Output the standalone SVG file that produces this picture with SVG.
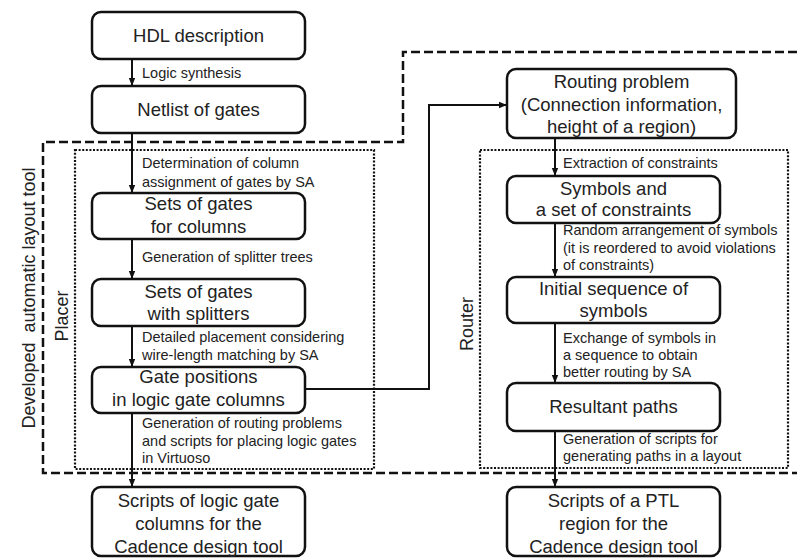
<svg xmlns="http://www.w3.org/2000/svg" width="797" height="558" viewBox="0 0 797 558">
<style>
.box{fill:#fff;stroke:#111;stroke-width:2.5}
.bt{font-family:"Liberation Sans",Arial,sans-serif;font-size:18.5px;fill:#222;text-anchor:middle}
.lb{font-family:"Liberation Sans",Arial,sans-serif;font-size:14.5px;fill:#222}
.side{font-family:"Liberation Sans",Arial,sans-serif;font-size:18px;fill:#222;text-anchor:middle}
.con{fill:none;stroke:#111;stroke-width:2}
.dash{fill:none;stroke:#111;stroke-width:2.5;stroke-dasharray:9 4}
.dot{fill:none;stroke:#111;stroke-width:2.2;stroke-dasharray:2 1.6}
</style>
<defs>
<marker id="ah" markerUnits="userSpaceOnUse" markerWidth="8" markerHeight="8" viewBox="0 0 8 8" refX="8" refY="4" orient="auto">
<path d="M0,0.8 L8,4 L0,7.2 Z" fill="#111"/>
</marker>
</defs>
<rect width="797" height="558" fill="#fff"/>
<g id="regions">
<path class="dash" d="M797,52 H403 V142 H43 V473 H797"/>
<rect class="dot" x="75" y="150" width="299" height="319"/>
<rect class="dot" x="480" y="150" width="308" height="318"/>
<text class="side" transform="translate(35,298) rotate(-90)" xml:space="preserve">Developed  automatic layout tool</text>
<text class="side" transform="translate(68,316) rotate(-90)">Placer</text>
<text class="side" transform="translate(473,324) rotate(-90)">Router</text>
</g>
<g id="connectors">
<path class="con" d="M132,59 V86" marker-end="url(#ah)"/>
<path class="con" d="M132,133 V193" marker-end="url(#ah)"/>
<path class="con" d="M132,239 V279" marker-end="url(#ah)"/>
<path class="con" d="M132,326 V367" marker-end="url(#ah)"/>
<path class="con" d="M132,413 V487" marker-end="url(#ah)"/>
<path class="con" d="M305,389 H429 V105 H507" marker-end="url(#ah)"/>
<path class="con" d="M555,138 V176" marker-end="url(#ah)"/>
<path class="con" d="M555,223 V277" marker-end="url(#ah)"/>
<path class="con" d="M555,323 V383" marker-end="url(#ah)"/>
<path class="con" d="M555,431 V487" marker-end="url(#ah)"/>
<text class="lb" x="142" y="78">Logic synthesis</text>
<text class="lb" x="142" y="168">Determination of column</text>
<text class="lb" x="142" y="187">assignment of gates by SA</text>
<text class="lb" x="142" y="262">Generation of splitter trees</text>
<text class="lb" x="142" y="342">Detailed placement considering</text>
<text class="lb" x="142" y="360">wire-length matching by SA</text>
<text class="lb" x="142" y="428">Generation of routing problems</text>
<text class="lb" x="142" y="446">and scripts for placing logic gates</text>
<text class="lb" x="142" y="463">in Virtuoso</text>
<text class="lb" x="563" y="168">Extraction of constraints</text>
<text class="lb" x="563" y="235">Random arrangement of symbols</text>
<text class="lb" x="563" y="253">(it is reordered to avoid violations</text>
<text class="lb" x="563" y="270">of constraints)</text>
<text class="lb" x="563" y="343">Exchange of symbols in</text>
<text class="lb" x="563" y="360">a sequence to obtain</text>
<text class="lb" x="563" y="377">better routing by SA</text>
<text class="lb" x="563" y="444">Generation of scripts for</text>
<text class="lb" x="563" y="461">generating paths in a layout</text>
</g>
<g id="hdl"><rect class="box" x="92" y="12" width="213" height="47" rx="9"/><text class="bt" x="198.5" y="42">HDL description</text></g>
<g id="netlist"><rect class="box" x="92" y="86" width="213" height="47" rx="9"/><text class="bt" x="198.5" y="116">Netlist of gates</text></g>
<g id="setsColumns"><rect class="box" x="92" y="193" width="213" height="46" rx="9"/><text class="bt" x="198.5" y="210">Sets of gates</text><text class="bt" x="198.5" y="233">for columns</text></g>
<g id="setsSplitters"><rect class="box" x="92" y="279" width="213" height="47" rx="9"/><text class="bt" x="198.5" y="298">Sets of gates</text><text class="bt" x="198.5" y="320">with splitters</text></g>
<g id="gatePositions"><rect class="box" x="92" y="367" width="213" height="46" rx="9"/><text class="bt" x="198.5" y="383">Gate positions</text><text class="bt" x="198.5" y="406">in logic gate columns</text></g>
<g id="scriptsLogic"><rect class="box" x="92" y="487" width="213" height="69" rx="9"/><text class="bt" x="198.5" y="507">Scripts of logic gate</text><text class="bt" x="198.5" y="530">columns for the</text><text class="bt" x="198.5" y="553">Cadence design tool</text></g>
<g id="routingProblem"><rect class="box" x="507" y="69" width="229" height="69" rx="9"/><text class="bt" x="621.5" y="88">Routing problem</text><text class="bt" x="621.5" y="111">(Connection information,</text><text class="bt" x="621.5" y="133">height of a region)</text></g>
<g id="symbols"><rect class="box" x="507" y="176" width="213" height="47" rx="9"/><text class="bt" x="613.5" y="195">Symbols and</text><text class="bt" x="613.5" y="216">a set of constraints</text></g>
<g id="initialSequence"><rect class="box" x="507" y="277" width="213" height="46" rx="9"/><text class="bt" x="613.5" y="295">Initial sequence of</text><text class="bt" x="613.5" y="317">symbols</text></g>
<g id="resultantPaths"><rect class="box" x="507" y="383" width="213" height="48" rx="9"/><text class="bt" x="613.5" y="413">Resultant paths</text></g>
<g id="scriptsPTL"><rect class="box" x="507" y="487" width="213" height="69" rx="9"/><text class="bt" x="613.5" y="507">Scripts of a PTL</text><text class="bt" x="613.5" y="530">region for the</text><text class="bt" x="613.5" y="553">Cadence design tool</text></g>
</svg>
